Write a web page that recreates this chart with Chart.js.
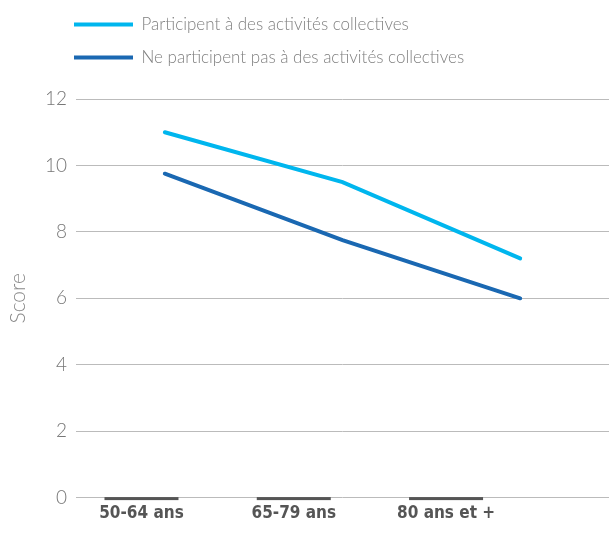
<!DOCTYPE html>
<html>
<head>
<meta charset="utf-8">
<script src="https://cdn.jsdelivr.net/npm/chart.js@4/dist/chart.umd.min.js"></script>
<style>
  html, body { margin: 0; padding: 0; background: #fff; }
  #wrap { width: 609px; height: 535px; }
</style>
</head>
<body>
<div id="wrap"><canvas id="scoreChart"></canvas></div>
<script>
const ageGroups = ['50-64 ans', '65-79 ans', '80 ans et +'];
const seriesNames = ['Participent à des activités collectives', 'Ne participent pas à des activités collectives'];
const participent = [11.0, 9.5, 7.2];
const neParticipentPas = [9.75, 7.75, 6.0];
const yTicks = [0, 2, 4, 6, 8, 10, 12];

const scoreChart = document.getElementById('scoreChart');

// legend sits under the plot's left edge, with some room below it
const legendShift = {
  id: 'legendShift',
  beforeLayout(chart) {
    const lg = chart.legend;
    if (lg && !lg._extraRoom) {
      const fit = lg.fit.bind(lg);
      lg.fit = function () {
        fit();
        this.height += 23;
      };
      lg._extraRoom = true;
    }
  },
  afterLayout(chart) {
    chart.legend.left = 58;
  }
};

// dark bars under each age group on the zero line
const tickBars = {
  id: 'tickBars',
  afterDatasetsDraw(chart) {
    const { ctx, scales } = chart;
    const y0 = scales.y.getPixelForValue(0);
    ctx.save();
    ctx.fillStyle = '#555555';
    scales.x2.ticks.forEach((t) => {
      const px = scales.x2.getPixelForValue(t.value);
      ctx.fillRect(px - 37, y0 - 0.5, 74, 3);
    });
    ctx.restore();
  }
};

new Chart(scoreChart, {
  type: 'line',
  data: {
    labels: ageGroups,
    datasets: [
      {
        label: seriesNames[0],
        data: participent,
        borderColor: '#00b6ee',
        backgroundColor: '#00b6ee',
        borderWidth: 4,
        borderCapStyle: 'round',
        pointRadius: 0,
        tension: 0,
      },
      {
        label: seriesNames[1],
        data: neParticipentPas,
        borderColor: '#1a68b2',
        backgroundColor: '#1a68b2',
        borderWidth: 4,
        borderCapStyle: 'round',
        pointRadius: 0,
        tension: 0,
      },
    ],
  },
  options: {
    responsive: true,
    maintainAspectRatio: false,
    animation: false,
    layout: { padding: { bottom: 5 } },
    plugins: {
      tooltip: { enabled: false },
      legend: {
        position: 'top',
        align: 'start',
        labels: {
          usePointStyle: true,
          pointStyle: 'line',
          pointStyleWidth: 59,
          boxHeight: 4,
          padding: 16,
          color: '#808080',
          font: { family: 'Lato', weight: 300, size: 17 },
        },
      },
    },
    scales: {
      x: {
        type: 'category',
        display: false,
        offset: true,
      },
      x2: {
        type: 'linear',
        position: 'bottom',
        min: 0.07,
        max: 3.57,
        afterBuildTicks: (scale) => {
          scale.ticks = ageGroups.map((_, i) => ({ value: i + 0.5 }));
        },
        grid: { display: false, drawTicks: false },
        border: { display: false },
        ticks: {
          autoSkip: false,
          maxRotation: 0,
          padding: 6,
          color: '#555555',
          font: { family: "'DejaVu Sans Condensed', 'Liberation Sans Narrow', 'DejaVu Sans', sans-serif", weight: 'bold', size: 17 },
          callback: (v, i) => ageGroups[i],
        },
      },
      y: {
        min: 0,
        max: 12,
        afterBuildTicks: (scale) => {
          scale.ticks = yTicks.map((v) => ({ value: v }));
        },
        afterFit: (scale) => {
          scale.width = 76;
        },
        grid: { color: '#bbbbbb', lineWidth: 1, drawTicks: false },
        border: { display: false },
        ticks: {
          padding: 9,
          color: '#777777',
          font: { family: 'Lato', weight: 300, size: 19 },
        },
        title: {
          display: true,
          text: 'Score',
          color: '#888888',
          padding: { top: 6, bottom: 0 },
          font: { family: 'Lato', weight: 300, size: 21 },
        },
      },
    },
  },
  plugins: [legendShift, tickBars],
});
</script>
</body>
</html>
